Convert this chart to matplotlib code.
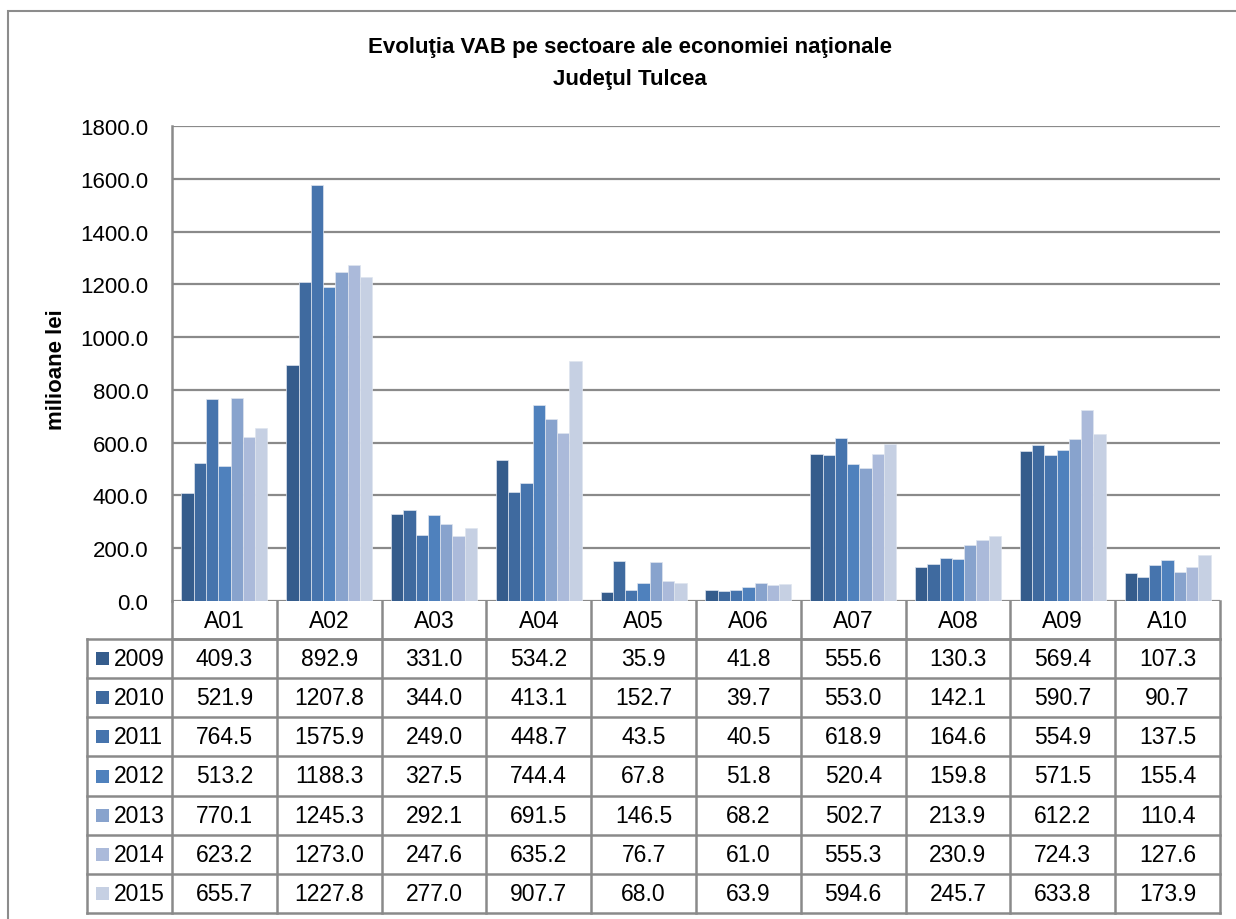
import matplotlib
matplotlib.use("Agg")
import matplotlib.pyplot as plt
from matplotlib.patches import Rectangle
from matplotlib.lines import Line2D
import numpy as np

categories = ["A01", "A02", "A03", "A04", "A05", "A06", "A07", "A08", "A09", "A10"]
years = ["2009", "2010", "2011", "2012", "2013", "2014", "2015"]
v2009 = [409.3, 892.9, 331.0, 534.2, 35.9, 41.8, 555.6, 130.3, 569.4, 107.3]
v2010 = [521.9, 1207.8, 344.0, 413.1, 152.7, 39.7, 553.0, 142.1, 590.7, 90.7]
v2011 = [764.5, 1575.9, 249.0, 448.7, 43.5, 40.5, 618.9, 164.6, 554.9, 137.5]
v2012 = [513.2, 1188.3, 327.5, 744.4, 67.8, 51.8, 520.4, 159.8, 571.5, 155.4]
v2013 = [770.1, 1245.3, 292.1, 691.5, 146.5, 68.2, 502.7, 213.9, 612.2, 110.4]
v2014 = [623.2, 1273.0, 247.6, 635.2, 76.7, 61.0, 555.3, 230.9, 724.3, 127.6]
v2015 = [655.7, 1227.8, 277.0, 907.7, 68.0, 63.9, 594.6, 245.7, 633.8, 173.9]
series = [v2009, v2010, v2011, v2012, v2013, v2014, v2015]
colors = ["#355C8C", "#3F6A9F", "#4674AD", "#4F81BD", "#88A3CD", "#ABBADA", "#C6D0E3"]
yticks = [0, 200, 400, 600, 800, 1000, 1200, 1400, 1600, 1800]

plt.rcParams['font.family'] = ['Liberation Sans', 'DejaVu Sans']

W, H = 1236, 920
fig = plt.figure(figsize=(W / 100, H / 100), dpi=100)

def fx(x):
    return x / W

def fy(y):
    return 1 - y / H

# outer frame
fig.patches.append(Rectangle((fx(8), fy(930)), fx(1240) - fx(8), fy(12) - fy(930),
                             transform=fig.transFigure, fill=False, edgecolor="#8c8c8c", lw=1.5))

L, R, T, B = 172, 1220, 127, 602
ax = fig.add_axes([fx(L), fy(B), fx(R) - fx(L), fy(T) - fy(B)])
ax.set_xlim(0, len(categories))
ax.set_ylim(0, 1800)

x = np.arange(len(categories)) + 0.5
n = len(series)
bw = 0.82 / n
for i, vals in enumerate(series):
    ax.bar(x + (i - (n - 1) / 2) * bw, vals, width=bw, color=colors[i],
           edgecolor="#dfe5ef", linewidth=0.5, zorder=3)

ax.set_yticks(yticks)
ax.set_yticklabels([f"{t:.1f}" for t in yticks], fontsize=16)
ax.yaxis.grid(True, color="#8a8a8a", lw=1.6, zorder=1)
ax.set_xticks([])
for s in ["top", "right", "bottom"]:
    ax.spines[s].set_visible(False)
ax.spines["left"].set_color("#8a8a8a")
ax.spines["left"].set_linewidth(1.8)
ax.tick_params(axis="y", length=0, pad=17)
ax.set_ylabel("milioane lei", fontsize=16, fontweight="bold")
ax.yaxis.set_label_coords((67 - L) / (R - L), 0.49)

fig.text(fx(630), fy(48), "Evoluţia VAB pe sectoare ale economiei naţionale",
         ha="center", va="center", fontsize=16, fontweight="bold")
fig.text(fx(630), fy(80), "Judeţul Tulcea", ha="center", va="center",
         fontsize=16, fontweight="bold")

# data table
colw = (R - L) / len(categories)
hdr_top, hdr_bot = B, 640
rowh = (914 - hdr_bot) / len(years)
leg_left = 87
lc = "#8a8a8a"

def line(x0, y0, x1, y1, lw=1.8):
    fig.add_artist(Line2D([fx(x0), fx(x1)], [fy(y0), fy(y1)], transform=fig.transFigure,
                          color=lc, lw=lw))

table_bot = hdr_bot + rowh * len(years)
for k in range(len(categories) + 1):
    xx = L + k * colw
    line(xx, hdr_top, xx, table_bot)
line(leg_left, hdr_bot, leg_left, table_bot)
line(L, hdr_bot, R, hdr_bot)
for r in range(len(years) + 1):
    yy = hdr_bot + r * rowh
    line(leg_left, yy, R, yy)

for k, c in enumerate(categories):
    fig.text(fx(L + (k + 0.5) * colw), fy((hdr_top + hdr_bot) / 2), c,
             ha="center", va="center", fontsize=16.5)

for r, (yr, vals) in enumerate(zip(years, series)):
    yc = hdr_bot + (r + 0.5) * rowh
    fig.patches.append(Rectangle((fx(96), fy(yc + 6.5)), fx(13), 13 / H,
                                 transform=fig.transFigure, color=colors[r], lw=0))
    fig.text(fx(114), fy(yc), yr, ha="left", va="center", fontsize=16.5)
    for k, v in enumerate(vals):
        fig.text(fx(L + (k + 0.5) * colw), fy(yc), f"{v:.1f}",
                 ha="center", va="center", fontsize=16.5)

fig.savefig("out.png", dpi=100, facecolor="white")
